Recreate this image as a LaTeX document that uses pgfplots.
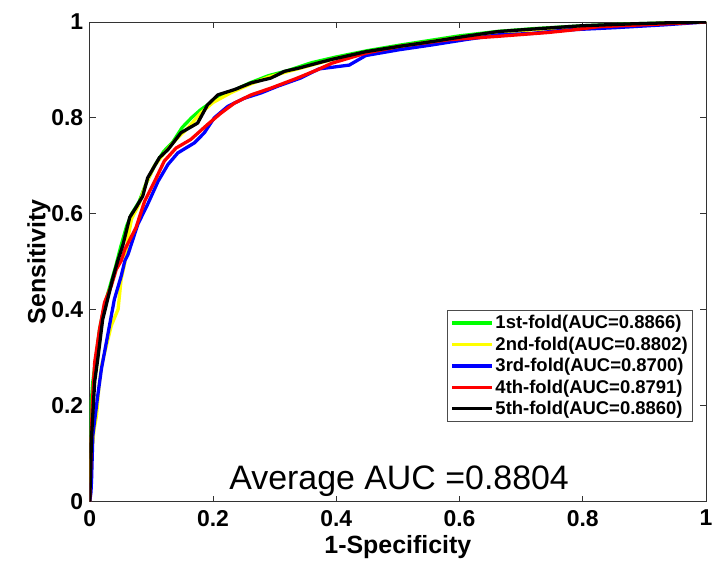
\documentclass[border=0pt]{standalone}
\usepackage{pgfplots}
\pgfplotsset{compat=1.18}
\usepackage{fontspec}
\setmainfont{Liberation Sans}
\begin{document}
\begin{tikzpicture}
\begin{axis}[name=ax,
  scale only axis, width=618pt, height=481pt,
  xmin=0, xmax=1, ymin=0, ymax=1,
  xtick={0,0.2,0.4,0.6,0.8,1}, ytick={0,0.2,0.4,0.6,0.8,1},
  tick align=inside, major tick length=6pt,
  axis line style={draw=black!80, line width=0.8pt},
  tick style={draw=black!80, line width=0.8pt},
  /pgf/number format/assume math mode=true,
  ticklabel style={font=\fontsize{23}{27}\selectfont\bfseries},
  xticklabel style={yshift=-5pt},
  yticklabel style={xshift=-3pt},
  xlabel={1-Specificity}, ylabel={Sensitivity},
  label style={font=\fontsize{25}{29}\selectfont\bfseries},
  xlabel style={yshift=-2pt},
  ylabel style={yshift=-6pt},
  legend cell align=left,
  legend style={at={(0.979,0.399)}, anchor=north east, draw=black!70, line width=0.8pt,
    font=\fontsize{18.5}{22}\selectfont\bfseries, row sep=2.6pt, inner xsep=3pt, inner ysep=3pt},
  legend image code/.code={\draw[#1, line width=3.2pt] (0pt,0pt) -- (40pt,0pt);},
]
\addplot[color={rgb,255:red,0;green,255;blue,0}, line width=3.3pt, line join=round] coordinates {
(0,0) (0,0.1) (0.002,0.2) (0.005,0.25) (0.01,0.3) (0.016,0.36) (0.024,0.41) (0.033,0.45) (0.042,0.49) (0.05,0.53) (0.06,0.575) (0.068,0.6) (0.08,0.625) (0.092,0.665) (0.105,0.7) (0.12,0.73) (0.135,0.75) (0.15,0.78) (0.165,0.8) (0.18,0.817) (0.2,0.835) (0.23,0.855) (0.26,0.873) (0.29,0.888) (0.32,0.898) (0.36,0.915) (0.4,0.927) (0.45,0.94) (0.5,0.951) (0.55,0.961) (0.6,0.971) (0.66,0.98) (0.72,0.986) (0.8,0.992) (0.88,0.996) (0.94,0.998) (1,1)};
\addlegendentry{1st-fold(AUC=0.8866)}
\addplot[color={rgb,255:red,255;green,255;blue,0}, line width=3.3pt, line join=round] coordinates {
(0,0) (0.003,0.1) (0.007,0.15) (0.011,0.179) (0.015,0.24) (0.019,0.283) (0.027,0.325) (0.035,0.367) (0.046,0.401) (0.051,0.464) (0.057,0.498) (0.062,0.55) (0.068,0.59) (0.08,0.62) (0.092,0.665) (0.105,0.7) (0.12,0.725) (0.14,0.755) (0.16,0.78) (0.18,0.81) (0.2,0.832) (0.23,0.853) (0.26,0.87) (0.29,0.885) (0.32,0.896) (0.36,0.91) (0.4,0.924) (0.45,0.937) (0.5,0.948) (0.55,0.958) (0.6,0.968) (0.66,0.977) (0.72,0.984) (0.8,0.99) (0.88,0.995) (1,1)};
\addlegendentry{2nd-fold(AUC=0.8802)}
\addplot[color={rgb,255:red,0;green,0;blue,255}, line width=3.3pt, line join=round] coordinates {
(0,0) (0.002,0.02) (0.003,0.048) (0.005,0.138) (0.013,0.221) (0.019,0.277) (0.03,0.353) (0.04,0.422) (0.051,0.47) (0.057,0.502) (0.062,0.515) (0.078,0.578) (0.094,0.62) (0.111,0.668) (0.127,0.703) (0.143,0.727) (0.17,0.748) (0.186,0.769) (0.202,0.8) (0.224,0.824) (0.251,0.841) (0.278,0.852) (0.305,0.866) (0.342,0.883) (0.372,0.902) (0.421,0.91) (0.448,0.93) (0.502,0.942) (0.555,0.952) (0.609,0.963) (0.663,0.973) (0.717,0.976) (0.771,0.983) (0.852,0.988) (0.933,0.994) (1,1)};
\addlegendentry{3rd-fold(AUC=0.8700)}
\addplot[color={rgb,255:red,255;green,0;blue,0}, line width=3.3pt, line join=round] coordinates {
(0,0) (0.002,0.1) (0.004,0.2) (0.008,0.29) (0.016,0.36) (0.024,0.415) (0.035,0.45) (0.043,0.484) (0.051,0.502) (0.057,0.526) (0.075,0.571) (0.089,0.626) (0.108,0.675) (0.121,0.71) (0.14,0.737) (0.164,0.755) (0.191,0.786) (0.213,0.81) (0.235,0.831) (0.262,0.848) (0.294,0.862) (0.337,0.883) (0.369,0.9) (0.393,0.914) (0.448,0.935) (0.502,0.949) (0.583,0.963) (0.663,0.97) (0.744,0.978) (0.782,0.983) (0.825,0.99) (0.933,0.996) (1,1)};
\addlegendentry{4th-fold(AUC=0.8791)}
\addplot[color=black, line width=3.3pt, line join=round] coordinates {
(0,0) (0.001,0.05) (0.003,0.137) (0.008,0.25) (0.013,0.297) (0.021,0.38) (0.032,0.437) (0.037,0.464) (0.045,0.5) (0.054,0.536) (0.065,0.593) (0.075,0.613) (0.086,0.637) (0.094,0.675) (0.113,0.717) (0.127,0.734) (0.148,0.769) (0.175,0.789) (0.191,0.827) (0.208,0.848) (0.235,0.859) (0.262,0.873) (0.294,0.883) (0.316,0.897) (0.34,0.904) (0.369,0.914) (0.393,0.922) (0.448,0.938) (0.502,0.949) (0.555,0.959) (0.609,0.97) (0.663,0.98) (0.717,0.985) (0.798,0.992) (0.879,0.996) (0.933,0.998) (1,1)};
\addlegendentry{5th-fold(AUC=0.8860)}
\node[font=\fontsize{34}{40}\selectfont] at (axis description cs:0.502,0.042) {Average AUC =0.8804};
\end{axis}
\pgfresetboundingbox
\path (ax.south west) ++(-90pt,-72pt) coordinate (bl);
\path (ax.north east) ++(6pt,22pt) coordinate (tr);
\path (bl) rectangle (tr);
\end{tikzpicture}
\end{document}
